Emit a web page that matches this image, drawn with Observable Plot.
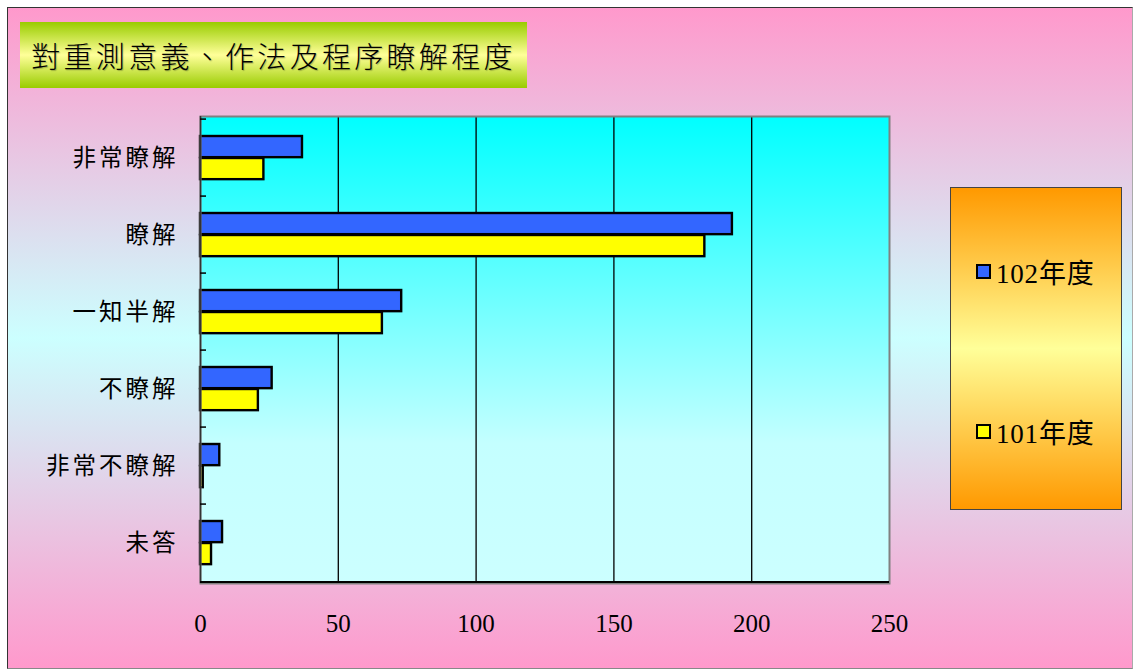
<!DOCTYPE html>
<html>
<head>
<meta charset="utf-8">
<script src="https://cdn.jsdelivr.net/npm/d3@7"></script>
<script src="https://cdn.jsdelivr.net/npm/@observablehq/plot@0.6"></script>
<style>
  html, body { margin: 0; padding: 0; background: #fff; }
  body { width: 1134px; height: 671px; position: relative; overflow: hidden; }
  #panel {
    position: absolute; left: 7px; top: 7px; width: 1126px; height: 662px;
    box-sizing: border-box; border: 1.5px solid #333; border-right-color: #aaa; border-bottom-color: #888;
    background: linear-gradient(to bottom, #ff99cc 0%, #ccffff 50%, #ff99cc 100%);
  }
  #title {
    position: absolute; left: 20px; top: 22px; width: 507px; height: 66px;
    background: linear-gradient(to bottom, #99cc00 0%, #ffff99 50%, #99cc00 100%);
    font-family: "Noto Sans CJK TC", sans-serif; font-size: 29px; font-weight: 300;
    letter-spacing: 3.3px; color: #000; line-height: 66px; text-align: center;
    text-shadow: 1px 1px 1px rgba(0,0,0,0.25);
  }
  #chart { position: absolute; left: 0; top: 0; }
  #legend {
    position: absolute; left: 950px; top: 187px; width: 172px; height: 323px;
    box-sizing: border-box; border: 1.5px solid #444;
    background: linear-gradient(to bottom, #ff9900 0%, #ffff99 50%, #ff9900 100%);
  }
  .item { position: absolute; left: 25px; height: 30px; display: flex; align-items: center; }
  .swatch { width: 11px; height: 11px; border: 2px solid #000; margin-right: 5px; }
  .label { font-family: "Liberation Serif", "Noto Sans CJK TC", serif; font-size: 27px; color: #000; letter-spacing: 0.8px; }
</style>
</head>
<body>
<div id="panel"></div>
<div id="title"></div>
<div id="chart"></div>
<div id="legend"></div>
<script>
// Survey responses: understanding of re-testing meaning, method and procedure
const title = "對重測意義、作法及程序瞭解程度";
const categories = ["非常瞭解", "瞭解", "一知半解", "不瞭解", "非常不瞭解", "未答"];
const seriesNames = ["102年度", "101年度"];
const values102 = [37, 193, 73, 26, 7, 8];
const values101 = [23, 183, 66, 21, 1, 4];
const xTicks = [0, 50, 100, 150, 200, 250];
const seriesColors = ["#3366ff", "#ffff00"];

const rows102 = categories.map((c, i) => ({category: c, value: values102[i]}));
const rows101 = categories.map((c, i) => ({category: c, value: values101[i]}));

document.getElementById("title").textContent = title;

const width = 930, height = 671;
const mTop = 116, mBottom = 88, mLeft = 200, mRight = 41;
const band = (height - mTop - mBottom) / categories.length;

// gradient definition for the plotting area
const defs = () => {
  const ns = "http://www.w3.org/2000/svg";
  const d = document.createElementNS(ns, "defs");
  const g = document.createElementNS(ns, "linearGradient");
  g.setAttribute("id", "plotBg");
  g.setAttribute("x1", "0"); g.setAttribute("y1", "0");
  g.setAttribute("x2", "0"); g.setAttribute("y2", "1");
  [["0", "#00ffff"], ["0.7", "#c4ffff"], ["1", "#ccffff"]].forEach(([o, c]) => {
    const s = document.createElementNS(ns, "stop");
    s.setAttribute("offset", o); s.setAttribute("stop-color", c);
    g.appendChild(s);
  });
  d.appendChild(g);
  return d;
};

const chart = Plot.plot({
  width, height,
  marginTop: mTop, marginBottom: mBottom, marginLeft: mLeft, marginRight: mRight,
  style: {background: "transparent", fontFamily: "'Liberation Serif', serif", fontSize: "25px", color: "#000"},
  x: {domain: [0, 250], ticks: xTicks},
  y: {domain: categories, padding: 0},
  marks: [
    defs,
    Plot.frame({fill: "url(#plotBg)"}),
    Plot.gridX({ticks: xTicks.slice(1, -1), stroke: "#000", strokeOpacity: 1, strokeWidth: 1.3}),
    Plot.barX(rows102, {x: "value", y: "category", fill: seriesColors[0], stroke: "#000", strokeWidth: 2.4,
      insetTop: 17, insetBottom: band - 39}),
    Plot.barX(rows101, {x: "value", y: "category", fill: seriesColors[1], stroke: "#000", strokeWidth: 2.4,
      insetTop: 39, insetBottom: band - 61}),
    Plot.frame({stroke: "#808080", strokeWidth: 2}),
    Plot.ruleX([0], {stroke: "#333", strokeWidth: 1.5}),
    Plot.ruleY([0], {y: () => categories[categories.length - 1], dy: band / 2, stroke: "#000", strokeWidth: 2}),
    Plot.axisY({text: null, label: null, tickSize: -6, dy: -band / 2, stroke: "#000", strokeWidth: 1.5}),
    Plot.axisY({tickSize: 0, tickPadding: 22, label: null, fontFamily: "'Noto Sans CJK TC', sans-serif", fontSize: 23.5}),
    Plot.axisX({ticks: xTicks, tickSize: 0, tickPadding: 31, label: null, fontSize: 25})
  ]
});
document.getElementById("chart").appendChild(chart);

// a little breathing room between characters of the category labels
d3.select(chart).selectAll("[aria-label='y-axis tick label'] text").attr("letter-spacing", "3px");

// legend
const legend = document.getElementById("legend");
const itemTops = [68, 228];
seriesNames.forEach((name, i) => {
  const item = document.createElement("div");
  item.className = "item";
  item.style.top = itemTops[i] + "px";
  const sw = document.createElement("div");
  sw.className = "swatch";
  sw.style.background = seriesColors[i];
  const lb = document.createElement("span");
  lb.className = "label";
  lb.textContent = name;
  item.appendChild(sw); item.appendChild(lb);
  legend.appendChild(item);
});
</script>
</body>
</html>
